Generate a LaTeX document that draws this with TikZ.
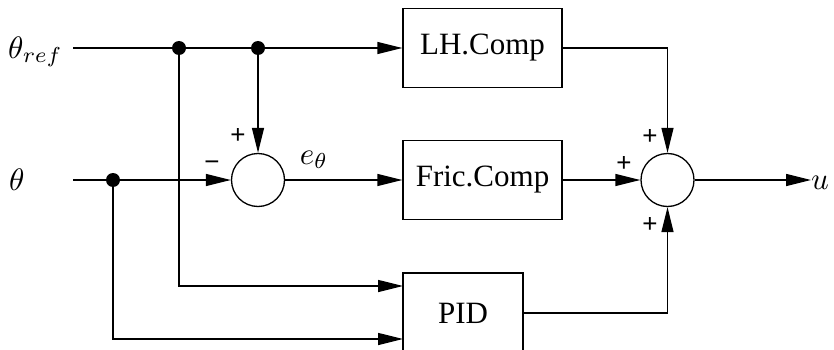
\documentclass[tikz,border=0pt]{standalone}
\usepackage{graphicx}
\usepackage{fontspec}
\setmainfont{Liberation Serif}
\newfontfamily\signfont{Liberation Sans}
\usetikzlibrary{arrows.meta}
\newcommand{\bigmath}[1]{\scalebox{3.1}{\fontsize{10}{12}\selectfont$#1$}}
\tikzset{
  blk/.style={draw, line width=1.3pt, minimum width=159pt, minimum height=79pt, inner sep=0pt,
    font=\fontsize{31}{37}\selectfont},
  sumj/.style={draw, circle, line width=1.3pt, minimum size=53pt, inner sep=0pt},
  dotj/.style={circle, fill=black, minimum size=14pt, inner sep=0pt},
  sgn/.style={inner sep=0pt, font=\signfont\fontsize{26}{30}\selectfont},
  lbl/.style={inner sep=0pt},
  conn/.style={line width=1.3pt},
  arr/.style={conn, -{Triangle[length=25pt,width=12pt]}}
}
\begin{document}
\begin{tikzpicture}[x=1pt,y=-1pt]
\useasboundingbox (0,0) rectangle (834,350);
\clip (0,0) rectangle (834,350);
% blocks
\node[blk] (lh) at (482.5,48) {LH.Comp};
\node[blk] (fc) at (482.5,180) {Fric.Comp};
\node[blk, minimum width=120pt, minimum height=80pt] (pid) at (463,313) {PID};
\node[sumj] (s1) at (258,180) {};
\node[sumj] (s2) at (667.5,180) {};
% inputs
\node[lbl, anchor=west] (lref) at (8,52) {\bigmath{\theta_{ref}}};
\node[lbl, anchor=west] (lth) at (9,180) {\bigmath{\theta}};
\coordinate (inref) at (73,48);
\coordinate (inth) at (73,180);
\node[dotj] (d1) at (179,48) {};
\node[dotj] (d2) at (258,48) {};
\node[dotj] (d3) at (113,180) {};
\coordinate (pin1) at (403,286);
\coordinate (pin2) at (403,339);
\coordinate (outu) at (811,180);
\node[lbl, anchor=west] (lu) at (811,183) {\bigmath{u}};
% connectors
\draw[arr] (inref) -- (lh.west);
\draw[arr] (d2.center) -- (s1.north);
\draw[arr] (inth) -- (s1.west);
\draw[arr] (s1.east) -- (fc.west);
\draw[arr] (fc.east) -- (s2.west);
\draw[arr] (lh.east) -| (s2.north);
\draw[arr] (pid.east) -| (s2.south);
\draw[arr] (d1.center) |- (pin1);
\draw[arr] (d3.center) |- (pin2);
\draw[arr] (s2.east) -- (outu);
% labels
\node[lbl] (le) at (314,160) {\bigmath{e_\theta}};
\node[sgn] (p1) at (238,136) {+};
\node[sgn] (m1) at (212,166) {\textminus};
\node[sgn] (p2) at (650,137) {+};
\node[sgn] (p3) at (624,164) {+};
\node[sgn] (p4) at (650,225) {+};
\end{tikzpicture}
\end{document}
